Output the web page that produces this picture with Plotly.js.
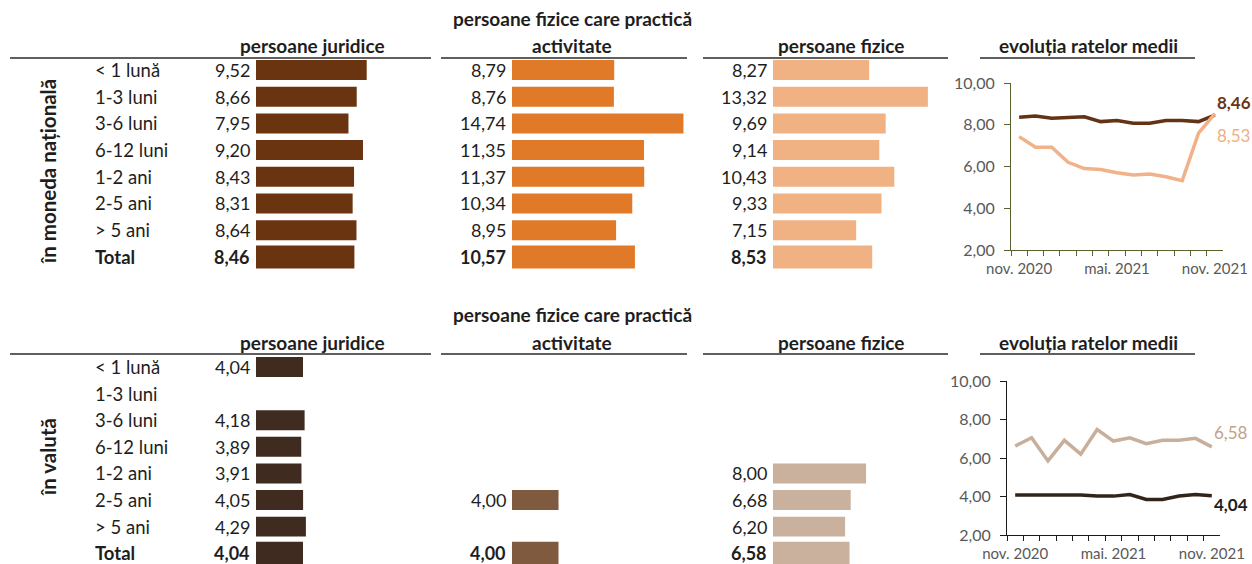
<!DOCTYPE html>
<html><head><meta charset="utf-8">
<script src="https://cdn.plot.ly/plotly-3.0.1.min.js"></script>
<style>html,body{margin:0;padding:0;background:#fff}#chart{width:1252px;height:564px}
#chart text{font-feature-settings:"tnum" 1, "lnum" 1;font-variant-numeric:tabular-nums lining-nums}</style>
</head><body><div id="chart"></div>
<script>
// ---------- DATA ----------
const maturities = ['< 1 lună','1-3 luni','3-6 luni','6-12 luni','1-2 ani','2-5 ani','> 5 ani','Total'];
const sectionTitles = ['în moneda națională','în valută'];
const groupHeaders = [['persoane juridice'],['persoane fizice care practică','activitate'],['persoane fizice']];
const trendTitle = 'evoluția ratelor medii';
// national currency
const mdlJuridice   = [9.52, 8.66, 7.95, 9.20, 8.43, 8.31, 8.64, 8.46];
const mdlActivitate = [8.79, 8.76, 14.74, 11.35, 11.37, 10.34, 8.95, 10.57];
const mdlFizice     = [8.27, 13.32, 9.69, 9.14, 10.43, 9.33, 7.15, 8.53];
// foreign currency
const valJuridice   = [4.04, null, 4.18, 3.89, 3.91, 4.05, 4.29, 4.04];
const valActivitate = [null, null, null, null, null, 4.00, null, 4.00];
const valFizice     = [null, null, null, null, 8.00, 6.68, 6.20, 6.58];
// trends
const months = ['nov. 2020','dec. 2020','ian. 2021','feb. 2021','mar. 2021','apr. 2021','mai. 2021','iun. 2021','iul. 2021','aug. 2021','sep. 2021','oct. 2021','nov. 2021'];
const monthTickLabels = ['nov. 2020','mai. 2021','nov. 2021'];
const mdlJuridiceTrend = [8.36, 8.42, 8.31, 8.36, 8.38, 8.15, 8.20, 8.07, 8.07, 8.20, 8.20, 8.15, 8.46];
const mdlFiziceTrend   = [7.43, 6.92, 6.92, 6.20, 5.90, 5.86, 5.70, 5.59, 5.64, 5.51, 5.32, 7.60, 8.53];
const valJuridiceTrend = [4.08, 4.08, 4.08, 4.08, 4.08, 4.02, 4.02, 4.10, 3.85, 3.85, 4.03, 4.10, 4.04];
const valFiziceTrend   = [6.62, 7.05, 5.85, 6.92, 6.20, 7.48, 6.88, 7.05, 6.74, 6.92, 6.92, 7.02, 6.58];
const trendTicks = [2, 4, 6, 8, 10];

// ---------- LAYOUT HELPERS ----------
const W = 1252, H = 564;
const FONT = 'Lato, "Noto Sans", sans-serif';
const TXT = '#1e1e1e';
const px = v => v / W, py = v => 1 - v / H;
const fmt = v => v.toFixed(2).replace('.', ',');
const barScale = 11.63; // px per unit
const barPanels = [{start:256, end:436}, {start:512, end:700}, {start:773, end:948}];
const rules = [[10,431],[441,687],[703,948],[980,1195]];
const headerCenters = [312, 572, 841];

const sections = [
  {title: sectionTitles[0], titleY: 172, bars: [mdlJuridice, mdlActivitate, mdlFizice],
   colors: ['#6B3410','#E07A28','#F1B283'], row0: 70, step: 26.7, rule: 58,
   trend: [mdlJuridiceTrend, mdlFiziceTrend], trendColors: ['#643214','#F2B287'],
   endColors: ['#6B3410','#F0AE82'], endBold: [true, false], endShift: [13, -22],
   axisColor: '#56632f', tx0: 1011, tx1: 1223, ty10: 83, ty2: 250},
  {title: sectionTitles[1], titleY: 457, bars: [valJuridice, valActivitate, valFizice],
   colors: ['#3F2B1F','#7F5A3F','#C9B19D'], row0: 367, step: 26.6, rule: 354,
   trend: [valJuridiceTrend, valFiziceTrend], trendColors: ['#33241A','#C8AF9B'],
   endColors: ['#1e1e1e','#BFA28C'], endBold: [true, false], endShift: [-9, 14],
   axisColor: '#1a1a1a', tx0: 1007, tx1: 1220, ty10: 381, ty2: 535}
];

const data = [], annotations = [], shapes = [];
const layout = {
  width: W, height: H, margin: {l:0, r:0, t:0, b:0}, showlegend: false,
  paper_bgcolor: '#fff', plot_bgcolor: 'rgba(0,0,0,0)', separators: ', ',
  font: {family: FONT, color: TXT}
};
const axName = id => (id[0] === 'x' ? 'xaxis' : 'yaxis') + id.slice(1);

sections.forEach((s, si) => {
  const k = si * 4;
  const yId = k === 0 ? 'y' : 'y' + (k + 1);
  const topPx = s.row0 - 0.5 * s.step;
  let botPx = s.row0 + 7.5 * s.step, rEnd = 7.5;
  if (botPx > H) { botPx = H; rEnd = (H - s.row0) / s.step; }
  layout[axName(yId)] = {domain: [py(botPx), py(topPx)], range: [rEnd, -0.5], visible: false,
    anchor: k === 0 ? 'x' : 'x' + (k + 1), fixedrange: true};
  const idx = maturities.map((m, i) => i);

  s.bars.forEach((vals, bi) => {
    const n = k + bi + 1;
    const xId = n === 1 ? 'x' : 'x' + n;
    const p = barPanels[bi];
    layout[axName(xId)] = {domain: [px(p.start), px(p.end)], range: [0, (p.end - p.start) / barScale],
      visible: false, anchor: yId, fixedrange: true};
    data.push({type: 'bar', orientation: 'h', x: vals, y: idx, xaxis: xId, yaxis: yId,
      width: idx.map(i => i === 7 ? 0.86 : 0.75),
      marker: {color: s.colors[bi], line: {width: 0}}, hoverinfo: 'none'});
    vals.forEach((v, i) => {
      if (v === null) return;
      annotations.push({xref: xId, yref: yId, x: 0, y: i, xanchor: 'right', yanchor: 'middle',
        xshift: -4, showarrow: false, text: i === 7 ? '<b>' + fmt(v) + '</b>' : fmt(v),
        font: {size: 18, family: FONT, color: TXT}});
    });
    const hl = groupHeaders[bi];
    hl.forEach((t, li) => {
      annotations.push({xref: 'paper', yref: 'paper', x: px(headerCenters[bi]),
        y: py(s.rule - 12 - (hl.length - 1 - li) * 27), xanchor: 'center', yanchor: 'middle',
        showarrow: false, text: '<b>' + t + '</b>', font: {size: 19, family: FONT, color: TXT}});
    });
  });

  maturities.forEach((m, i) => {
    annotations.push({xref: 'paper', yref: yId, x: px(93), y: i, xanchor: 'left', yanchor: 'middle',
      showarrow: false, text: i === 7 ? '<b>' + m + '</b>' : m, font: {size: 18.5, family: FONT, color: TXT}});
  });
  annotations.push({xref: 'paper', yref: 'paper', x: px(48), y: py(s.titleY), textangle: -90,
    xanchor: 'center', yanchor: 'middle', showarrow: false, text: '<b>' + s.title + '</b>',
    font: {size: 20.5, family: FONT, color: TXT}});
  annotations.push({xref: 'paper', yref: 'paper', x: px(1088), y: py(s.rule - 12), xanchor: 'center',
    yanchor: 'middle', showarrow: false, text: '<b>' + trendTitle + '</b>', font: {size: 19, family: FONT, color: TXT}});
  rules.forEach(r => shapes.push({type: 'line', xref: 'paper', yref: 'paper', x0: px(r[0]), x1: px(r[1]),
    y0: py(s.rule), y1: py(s.rule), line: {color: '#2a2a2a', width: 1.5}}));

  const tx = 'x' + (k + 4), ty = 'y' + (k + 4);
  layout[axName(tx)] = {domain: [px(s.tx0), px(s.tx1)], anchor: ty, type: 'category',
    categoryarray: months, categoryorder: 'array', range: [-0.5, months.length - 0.5],
    tickson: 'boundaries', ticks: 'outside', ticklen: 5, tickwidth: 1, tickcolor: s.axisColor,
    showline: true, linecolor: s.axisColor, linewidth: 1, showgrid: false, zeroline: false,
    tickmode: 'array', tickvals: months, ticktext: months.map(m => monthTickLabels.includes(m) ? m : ''),
    tickangle: 0, ticklabelstandoff: 5, tickfont: {size: 15, family: FONT, color: '#595959'}, fixedrange: true};
  layout[axName(ty)] = {domain: [py(s.ty2), py(s.ty10)], anchor: tx, range: [2, 10],
    tickmode: 'array', tickvals: trendTicks, tickformat: '.2f', ticks: 'outside', ticklen: 6,
    tickwidth: 1, tickcolor: s.axisColor, showline: true, linecolor: s.axisColor, linewidth: 1,
    showgrid: false, zeroline: false, ticklabelstandoff: 6,
    tickfont: {size: 16, family: FONT, color: '#595959'}, fixedrange: true};
  s.trend.forEach((series, ti) => {
    data.push({type: 'scatter', mode: 'lines', x: months, y: series, xaxis: tx, yaxis: ty,
      line: {color: s.trendColors[ti], width: 3.5}, hoverinfo: 'none', cliponaxis: false});
    const last = series[series.length - 1];
    annotations.push({xref: tx, yref: ty, x: months.length - 1, y: last, xanchor: 'left', yanchor: 'middle',
      xshift: 0, yshift: s.endShift[ti], showarrow: false,
      text: s.endBold[ti] ? '<b>' + fmt(last) + '</b>' : fmt(last),
      font: {size: 17, family: FONT, color: s.endColors[ti]}});
  });
});

layout.annotations = annotations;
layout.shapes = shapes;
Plotly.newPlot('chart', data, layout, {staticPlot: true, displayModeBar: false});
</script>
</body></html>
